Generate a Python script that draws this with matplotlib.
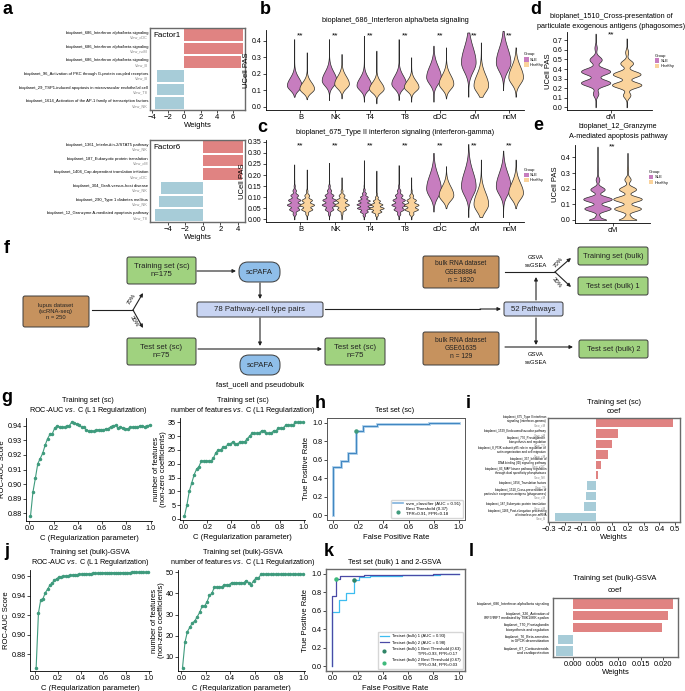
import numpy as np
import matplotlib
matplotlib.use('Agg')
import matplotlib.pyplot as plt
from matplotlib.patches import FancyBboxPatch, Patch
from matplotlib.lines import Line2D

plt.rcParams['font.family'] = ['Liberation Sans', 'DejaVu Sans']
plt.rcParams['mathtext.fontset'] = 'custom'
plt.rcParams['mathtext.rm'] = 'Liberation Sans'
plt.rcParams['mathtext.it'] = 'Liberation Sans:italic'
plt.rcParams['axes.linewidth'] = 0.6
plt.rcParams['xtick.major.size'] = 2
plt.rcParams['ytick.major.size'] = 2
plt.rcParams['xtick.major.width'] = 0.5
plt.rcParams['ytick.major.width'] = 0.5
plt.rcParams['xtick.major.pad'] = 1.2
plt.rcParams['ytick.major.pad'] = 1.2
plt.rcParams['axes.labelpad'] = 1.5

# ---------------- data ----------------
# a: factor weights
a1_names = ['bioplanet_686_Interferon alpha/beta signaling',
            'bioplanet_686_Interferon alpha/beta signaling',
            'bioplanet_686_Interferon alpha/beta signaling',
            'bioplanet_96_Activation of PKC through G-protein coupled receptors',
            'bioplanet_29_TSP1-induced apoptosis in microvascular endothelial cell',
            'bioplanet_1614_Activation of the AP-1 family of transcription factors']
a1_views = ['View_cDC', 'View_ncM', 'View_B', 'View_B', 'View_T8', 'View_NK']
a1_w = [7.15, 7.15, 6.95, -3.3, -3.4, -3.6]

a2_names = ['bioplanet_1361_Interleukin-2/STAT5 pathway',
            'bioplanet_187_Eukaryotic protein translation',
            'bioplanet_1404_Cap-dependent translation initiation',
            'bioplanet_304_Graft-versus-host disease',
            'bioplanet_290_Type 1 diabetes mellitus',
            'bioplanet_12_Granzyme A-mediated apoptosis pathway']
a2_views = ['View_NK', 'View_cM', 'View_cDC', 'View_NK', 'View_NK', 'View_T8']
a2_w = [4.55, 4.55, 4.5, -4.8, -5.0, -5.5]

# b-e: violin summaries (min, max, mode, spread)
cells = ['B', 'NK', 'T4', 'T8', 'cDC', 'cM', 'ncM']
b_sle_min = [0.06, 0.04, 0.03, 0.04, 0.03, 0.06, 0.10]
b_sle_max = [0.41, 0.41, 0.43, 0.41, 0.37, 0.45, 0.46]
b_sle_mode = [0.13, 0.16, 0.13, 0.14, 0.18, 0.27, 0.27]
b_sle_sd = [0.035, 0.04, 0.035, 0.037, 0.05, 0.07, 0.065]
b_hc_min = [0.045, 0.05, 0.02, 0.03, 0.05, 0.06, 0.06]
b_hc_max = [0.33, 0.32, 0.34, 0.30, 0.36, 0.39, 0.36]
b_hc_mode = [0.11, 0.14, 0.11, 0.12, 0.14, 0.13, 0.18]
b_hc_sd = [0.03, 0.035, 0.03, 0.03, 0.04, 0.05, 0.05]

c_sle_min = [0.0, 0.0, 0.0, 0.0, 0.035, 0.01, 0.01]
c_sle_max = [0.248, 0.255, 0.267, 0.245, 0.30, 0.34, 0.31]
c_sle_mode = [0.065, 0.07, 0.06, 0.065, 0.14, 0.15, 0.15]
c_sle_sd = [0.03, 0.03, 0.028, 0.03, 0.045, 0.05, 0.045]
c_hc_min = [0.0, 0.0, 0.0, 0.0, 0.05, 0.01, 0.05]
c_hc_max = [0.225, 0.19, 0.22, 0.19, 0.24, 0.27, 0.27]
c_hc_mode = [0.06, 0.065, 0.05, 0.055, 0.11, 0.07, 0.12]
c_hc_sd = [0.025, 0.025, 0.022, 0.025, 0.03, 0.04, 0.035]
c_ridge = [0.022, 0.022, 0.017, 0.022, 0.0, 0.0, 0.0]

d_sle = dict(lo=0.0, hi=0.77, mode=0.30, sd=0.11, step=0.13, phase=0.12, amp=0.55)
d_hc = dict(lo=0.0, hi=0.72, mode=0.27, sd=0.11, step=0.12, phase=0.11, amp=0.55)
e_sle = dict(lo=0.0, hi=0.47, mode=0.10, sd=0.06, step=0.065, phase=0.005, amp=0.6, foot=0.7)
e_hc = dict(lo=0.0, hi=0.43, mode=0.10, sd=0.07, step=0.065, phase=0.005, amp=0.6, foot=0.6)

# g / j: regularisation sweep
c_grid = [0.01, 0.03, 0.05, 0.07, 0.09, 0.11, 0.13, 0.15, 0.17, 0.19,
          0.21, 0.23, 0.25, 0.27, 0.29, 0.31, 0.33, 0.35, 0.37, 0.39,
          0.41, 0.43, 0.45, 0.47, 0.49, 0.51, 0.53, 0.55, 0.57, 0.59,
          0.61, 0.63, 0.65, 0.67, 0.69, 0.71, 0.73, 0.75, 0.77, 0.79,
          0.81, 0.83, 0.85, 0.87, 0.89, 0.91, 0.93, 0.95, 0.97, 0.99]
g_auc = [0.878, 0.8945, 0.904, 0.914, 0.9175, 0.921, 0.9265, 0.931, 0.934, 0.9345,
         0.9385, 0.9397, 0.9392, 0.939, 0.9388, 0.9398, 0.940, 0.9425, 0.9415, 0.9412,
         0.9405, 0.939, 0.9388, 0.937, 0.9362, 0.9365, 0.936, 0.9368, 0.9372, 0.9368,
         0.937, 0.9378, 0.938, 0.9392, 0.940, 0.9402, 0.9385, 0.939, 0.9385, 0.938,
         0.9378, 0.9388, 0.939, 0.9388, 0.939, 0.9398, 0.9395, 0.9393, 0.940, 0.9402]
g_nfeat = [1, 5, 10, 13, 16, 18, 19, 21, 21, 21, 21, 21, 22, 24, 25, 25, 26, 26, 27, 27,
           28, 27, 27, 28, 28, 28, 29, 30, 31, 31, 31, 31, 32, 32, 31, 31, 31, 32, 32, 33,
           33, 33, 34, 34, 34, 34, 35, 35, 35, 35]
j_auc = [0.866, 0.922, 0.9357, 0.937, 0.943, 0.9467, 0.9507, 0.9533, 0.9557, 0.9577,
         0.959, 0.9595, 0.960, 0.9603, 0.9607, 0.961, 0.9612, 0.9615, 0.9618, 0.962,
         0.9622, 0.9623, 0.9625, 0.9626, 0.9628, 0.963, 0.963, 0.9632, 0.9633, 0.9635,
         0.9637, 0.9637, 0.9637, 0.9637, 0.9638, 0.9638, 0.9638, 0.9638, 0.9639, 0.9639,
         0.9639, 0.9639, 0.964, 0.964, 0.964, 0.964, 0.964, 0.964, 0.964, 0.964]
j_nfeat = [5, 17, 22, 24, 26, 27, 29, 31, 34, 34, 36, 39, 40, 43, 43, 43, 43, 44, 44, 44,
           45, 45, 45, 45, 45, 45, 46, 45, 44, 46, 47, 47, 49, 49, 49, 49, 49, 49, 49, 49,
           49, 49, 49, 49, 49, 49, 49, 49, 49, 49]

# h / k: ROC curves
h_fpr = [0, 0, 0.06, 0.06, 0.12, 0.12, 0.18, 0.18, 0.24, 0.24, 0.35, 0.35, 0.76, 0.76, 1.0]
h_tpr = [0, 0.52, 0.52, 0.59, 0.59, 0.67, 0.67, 0.91, 0.91, 0.96, 0.96, 0.98, 0.98, 1.0, 1.0]
h_best = (0.18, 0.91)
k1_fpr = [0, 0, 0.05, 0.05, 0.11, 0.11, 0.17, 0.17, 0.21, 0.21, 0.30, 0.30, 0.55, 0.55, 0.85, 0.85, 1.0]
k1_tpr = [0, 0.59, 0.59, 0.72, 0.72, 0.79, 0.79, 0.93, 0.93, 0.96, 0.96, 0.97, 0.97, 0.98, 0.98, 1.0, 1.0]
k2_fpr = [0, 0, 0.03, 0.03, 0.06, 0.06, 0.25, 0.25, 0.80, 0.80, 1.0]
k2_tpr = [0, 0.76, 0.76, 0.94, 0.94, 0.97, 0.97, 0.99, 0.99, 1.0, 1.0]
k1_best = (0.17, 0.93)
k2_best = (0.03, 0.94)

# i / l: coefficients
i_names = ['bioplanet_675_Type II interferon\nsignaling (interferon-gamma)',
           'bioplanet_1529_Endosomal/vacuolar pathway',
           'bioplanet_770_Prostaglandin\nbiosynthesis and regulation',
           'bioplanet_8_PI3K subunit p85 role in regulation of\nactin organization and cell migration',
           'bioplanet_337_Inhibition of\nDNA binding (ID) signaling pathway',
           'bioplanet_83_MAP kinase pathway regulation\nthrough dual specificity phosphatases',
           'bioplanet_1656_Translation factors',
           'bioplanet_1510_Cross-presentation of\nparticulate exogenous antigens (phagosomes)',
           'bioplanet_187_Eukaryotic protein translation',
           'bioplanet_1166_Post-elongation processing\nof intronless pre-mRNA']
i_views = ['View_cM', 'View_cM', 'View_T4', 'View_cM', 'View_cDC', 'View_NK',
           'View_T8', 'View_cM', 'View_cM', 'View_B']
i_w = [0.486, 0.135, 0.10, 0.072, 0.03, 0.012, -0.062, -0.068, -0.077, -0.264]

l_names = ['bioplanet_686_Interferon alpha/beta signaling',
           'bioplanet_326_Activation of\nIRF3/IRF7 mediated by TBK1/IKK epsilon',
           'bioplanet_770_Prostaglandin\nbiosynthesis and regulation',
           'bioplanet_76_Beta-arrestins\nin GPCR desensitization',
           'bioplanet_67_Corticosteroids\nand cardioprotection']
l_w = [0.0222, 0.0209, 0.0196, -0.0033, -0.0037]

SLE_COL = '#C77DBF'
HC_COL = '#FAD39C'
RED = '#E08382'
BLUE = '#A7CCD8'
GREEN = '#3F9B7D'

W, H = 685, 691
fig = plt.figure(figsize=(W / 100, H / 100), dpi=100)


def ax_px(l, t, r, b):
    return fig.add_axes([l / W, 1 - b / H, (r - l) / W, (b - t) / H])


def ftext(x, y, s, **kw):
    fig.text(x / W, 1 - y / H, s, **kw)


def box_spines(ax, color='#6a6a6a', lw=1.0):
    for s in ax.spines.values():
        s.set_color(color)
        s.set_linewidth(lw)


def classic(ax):
    ax.spines['top'].set_visible(False)
    ax.spines['right'].set_visible(False)


# ---------------- a ----------------
def factor_panel(ax, names, views, w, label, xlim, xticks):
    n = len(w)
    y = np.arange(n)[::-1]
    ax.barh(y, w, height=0.86, color=[RED if v > 0 else BLUE for v in w])
    ax.set_xlim(*xlim)
    ax.set_ylim(-0.5, n - 0.5)
    ax.set_yticks([])
    ax.set_xticks(xticks)
    ax.tick_params(axis='x', labelsize=5.5)
    ax.set_xlabel('Weights', fontsize=5.5, labelpad=0.5)
    ax.text(0.04, 0.95, label, transform=ax.transAxes, ha='left', va='top', fontsize=5.8)
    tr = ax.get_yaxis_transform()
    for yi, nm, vw in zip(y, names, views):
        ax.text(-0.02, yi + 0.14, nm, transform=tr, ha='right', va='center', fontsize=3.0)
        ax.text(-0.02, yi - 0.22, vw, transform=tr, ha='right', va='center', fontsize=2.8, color='#888888')
    box_spines(ax)


factor_panel(ax_px(150, 28, 245, 110), a1_names, a1_views, a1_w, 'Factor1', (-4.2, 7.45), [-4, -2, 0, 2, 4, 6])
factor_panel(ax_px(150, 140, 245, 222), a2_names, a2_views, a2_w, 'Factor6', (-6.05, 4.8), [-4, -2, 0, 2, 4])


# ---------------- b-e violins ----------------
def vstats(lo, hi, mode, sd, step=0.0, phase=0.0, amp=0.0, foot=0.0):
    y = np.linspace(lo, hi, 400)
    s = np.where(y < mode, 0.8 * sd, 1.3 * sd)
    d = np.exp(-0.5 * ((y - mode) / s) ** 2)
    if step:
        d = d * (1 + amp * np.cos(2 * np.pi * (y - phase) / step))
    if foot:
        d = d + foot * np.exp(-0.5 * ((y - lo) / 0.007) ** 2)
    return dict(coords=y, vals=d, mean=mode, median=mode, min=lo, max=hi)


def draw_violins(ax, sle, hc, offset, width):
    pos = np.arange(len(sle))
    for stats, p, col in ((sle, pos - offset, SLE_COL), (hc, pos + offset, HC_COL)):
        parts = ax.violin(stats, positions=p, widths=width, showmeans=False,
                          showextrema=False, showmedians=False)
        for body in parts['bodies']:
            body.set_facecolor(col)
            body.set_edgecolor('#2a2a2a')
            body.set_linewidth(0.5)
            body.set_alpha(1)


def group_legend(ax, anchor):
    handles = [Patch(fc=SLE_COL, ec='none', label='SLE'), Patch(fc=HC_COL, ec='none', label='Healthy')]
    ax.legend(handles=handles, title='Group', loc='upper left', bbox_to_anchor=anchor,
              frameon=False, fontsize=3.0, title_fontsize=3.0, handlelength=1.1,
              handleheight=1.3, labelspacing=0.15, handletextpad=0.3, alignment='left',
              borderaxespad=0, borderpad=0)


def violin_axes(ax, cats, ylim, yticks, star_y, lpad=1.0):
    classic(ax)
    ax.set_ylim(*ylim)
    ax.set_yticks(yticks)
    ax.set_xticks(range(len(cats)))
    ax.set_xticklabels(cats)
    ax.tick_params(axis='x', labelsize=5.5)
    ax.tick_params(axis='y', labelsize=5.0)
    ax.set_ylabel('UCell PAS', fontsize=5.5, labelpad=lpad)
    for k in range(len(cats)):
        ax.text(k, star_y, '**', ha='center', va='center', fontsize=6)


axb = ax_px(266, 30, 524, 110)
sle = [vstats(*p) for p in zip(b_sle_min, b_sle_max, b_sle_mode, b_sle_sd)]
hc = [vstats(*p) for p in zip(b_hc_min, b_hc_max, b_hc_mode, b_hc_sd)]
draw_violins(axb, sle, hc, 0.18, 0.42)
violin_axes(axb, cells, (-0.02, 0.465), [0.0, 0.1, 0.2, 0.3, 0.4], 0.432)
axb.set_yticklabels(['0.0', '0.1', '0.2', '0.3', '0.4'])
axb.set_xlim(-0.99, 6.42)
group_legend(axb, (1.0, 0.72))
ftext(395, 20, 'bioplanet_686_Interferon alpha/beta signaling', ha='center', va='center', fontsize=5.2)

axc = ax_px(266, 140, 524, 222)
sle = [vstats(lo, hi, m, s, st, 0.0, 0.35) for lo, hi, m, s, st in
       zip(c_sle_min, c_sle_max, c_sle_mode, c_sle_sd, c_ridge)]
hc = [vstats(lo, hi, m, s, st, 0.0, 0.35) for lo, hi, m, s, st in
      zip(c_hc_min, c_hc_max, c_hc_mode, c_hc_sd, c_ridge)]
draw_violins(axc, sle, hc, 0.18, 0.42)
violin_axes(axc, cells, (-0.012, 0.358), [0.0, 0.05, 0.1, 0.15, 0.2, 0.25, 0.3, 0.35], 0.332)
axc.set_yticklabels(['0.00', '0.05', '0.10', '0.15', '0.20', '0.25', '0.30', '0.35'])
axc.set_xlim(-0.99, 6.42)
group_legend(axc, (1.0, 0.66))
ftext(395, 132, 'bioplanet_675_Type II interferon signaling (interferon-gamma)', ha='center', va='center', fontsize=5.2)

axd = ax_px(567, 32, 652, 110)
draw_violins(axd, [vstats(**d_sle)], [vstats(**d_hc)], 0.19, 0.36)
violin_axes(axd, ['cM'], (-0.028, 0.787), [0.0, 0.1, 0.2, 0.3, 0.4, 0.5, 0.6, 0.7], 0.755, lpad=0.4)
axd.set_yticklabels(['0.0', '0.1', '0.2', '0.3', '0.4', '0.5', '0.6', '0.7'])
axd.set_xlim(-0.54, 0.5)
group_legend(axd, (1.03, 0.72))
ftext(611, 16, 'bioplanet_1510_Cross-presentation of', ha='center', va='center', fontsize=5.2)
ftext(611, 26, 'particulate exogenous antigens (phagosomes)', ha='center', va='center', fontsize=5.2)

axe = ax_px(575, 145, 650, 223)
draw_violins(axe, [vstats(**e_sle)], [vstats(**e_hc)], 0.2, 0.38)
violin_axes(axe, ['cM'], (-0.02, 0.48), [0.0, 0.1, 0.2, 0.3, 0.4], 0.465)
axe.set_yticklabels(['0.0', '0.1', '0.2', '0.3', '0.4'])
axe.set_xlim(-0.5, 0.5)
group_legend(axe, (0.98, 0.68))
ftext(618, 127, 'bioplanet_12_Granzyme', ha='center', va='center', fontsize=5.2)
ftext(618, 136, 'A-mediated apoptosis pathway', ha='center', va='center', fontsize=5.2)

# ---------------- f flowchart ----------------
axf = fig.add_axes([0, 0, 1, 1], zorder=-1)
axf.set_xlim(0, W)
axf.set_ylim(H, 0)
axf.axis('off')

BROWN, LGREEN, LBLUE, LAV = '#C6925E', '#A0D27F', '#8FBEE9', '#C8D4F2'


def fbox(x0, y0, x1, y1, fc, text, fs, rnd=2):
    axf.add_patch(FancyBboxPatch((x0, y0), x1 - x0, y1 - y0,
                                 boxstyle='round,pad=0,rounding_size=%g' % rnd,
                                 fc=fc, ec='#3a3a3a', lw=0.7))
    axf.text((x0 + x1) / 2, (y0 + y1) / 2, text, ha='center', va='center',
             fontsize=fs, linespacing=1.25, color='#222222')


def arrow(x0, y0, x1, y1):
    axf.annotate('', xy=(x1, y1), xytext=(x0, y0),
                 arrowprops=dict(arrowstyle='-|>', color='#222222', lw=0.8,
                                 mutation_scale=5, shrinkA=0, shrinkB=0))


def line(xs, ys):
    axf.plot(xs, ys, color='#222222', lw=0.8)


fbox(23, 296, 89, 327, BROWN, 'lupus dataset\n(scRNA-seq)\nn = 250', 4.2)
fbox(127, 257, 196, 284, LGREEN, 'Training set (sc)\nn=175', 5.6)
fbox(239, 262, 280, 282, LBLUE, 'scPAFA', 5.6, rnd=9)
fbox(197, 302, 323, 317, LAV, '78 Pathway-cell type pairs', 5.6)
fbox(127, 338, 196, 365, LGREEN, 'Test set (sc)\nn=75', 5.6)
fbox(325, 338, 385, 365, LGREEN, 'Test set (sc)\nn=75', 5.6)
fbox(240, 355, 280, 375, LBLUE, 'scPAFA', 5.6, rnd=9)
axf.text(260, 385, 'fast_ucell and pseudobulk', ha='center', va='center', fontsize=5.4)
line([92, 133], [310, 310])
arrow(133, 310, 143, 293)
arrow(133, 310, 143, 328)
axf.text(132, 299, '70%', rotation=58, ha='center', va='center', fontsize=4.3)
axf.text(134, 321, '30%', rotation=-58, ha='center', va='center', fontsize=4.3)
arrow(197, 271, 236, 271)
arrow(260, 283, 260, 299)
arrow(260, 318, 260, 346)
arrow(198, 349, 322, 349)
line([325, 480], [309, 309])
arrow(480, 309, 501, 309)

fbox(423, 256, 499, 288, BROWN, 'bulk RNA dataset\nGSE88884\nn = 1820', 4.8)
fbox(423, 332, 499, 365, BROWN, 'bulk RNA dataset\nGSE61635\nn = 129', 4.8)
fbox(504, 302, 563, 316, LAV, '52 Pathways', 5.6)
fbox(578, 247, 648, 265, LGREEN, 'Training set (bulk)', 5.4)
fbox(578, 277, 648, 295, LGREEN, 'Test set (bulk) 1', 5.4)
fbox(579, 340, 648, 358, LGREEN, 'Test set (bulk) 2', 5.4)
line([505, 555], [272, 272])
arrow(555, 272, 571, 258)
arrow(555, 272, 571, 287)
axf.text(558, 262, '70%', rotation=50, ha='center', va='center', fontsize=4.3)
axf.text(557, 283, '30%', rotation=-50, ha='center', va='center', fontsize=4.3)
axf.text(536, 257, 'GSVA', ha='center', va='center', fontsize=4.2)
axf.text(536, 265, 'ssGSEA', ha='center', va='center', fontsize=4.2)
arrow(536, 300, 536, 277)
arrow(536, 318, 536, 345)
arrow(505, 347, 573, 347)
axf.text(536, 354, 'GSVA', ha='center', va='center', fontsize=4.2)
axf.text(536, 362, 'ssGSEA', ha='center', va='center', fontsize=4.2)


# ---------------- g / j ----------------
def curve_panel(ax, y, ylim, yticks, fmt, ylabel, xlim):
    ax.plot(c_grid, y, color=GREEN, lw=0.8, marker='o', ms=1.5, mec=GREEN, mfc=GREEN)
    classic(ax)
    ax.set_xlim(*xlim)
    ax.set_ylim(*ylim)
    ax.set_xticks([0, 0.2, 0.4, 0.6, 0.8, 1.0])
    ax.set_yticks(yticks)
    ax.set_yticklabels([fmt % v for v in yticks])
    ax.tick_params(labelsize=5.2)
    ax.set_xlabel('C (Regularization parameter)', fontsize=5.5)
    ax.set_ylabel(ylabel, fontsize=5.5, linespacing=1.0, labelpad=0.6)


curve_panel(ax_px(26, 418, 152, 521), g_auc, (0.8748, 0.9452),
            [0.88, 0.89, 0.90, 0.91, 0.92, 0.93, 0.94], '%.2f', 'ROC-AUC Score', (-0.027, 1.01))
ftext(88, 401, 'Training set (sc)', ha='center', va='center', fontsize=5.2)
ftext(88, 411, r'ROC-AUC $\it{vs.}$ C (L1 Regularization)', ha='center', va='center', fontsize=5.2)

curve_panel(ax_px(180, 418, 305, 520), g_nfeat, (-0.4, 36.6), [0, 5, 10, 15, 20, 25, 30, 35], '%d',
            'number of features\n(non-zero coefficients)', (-0.027, 1.01))
ftext(243, 401, 'Training set (sc)', ha='center', va='center', fontsize=5.2)
ftext(243, 411, r'number of features $\it{vs.}$ C (L1 Regularization)', ha='center', va='center', fontsize=5.2)

curve_panel(ax_px(30, 570, 151, 671), j_auc, (0.8625, 0.9665),
            [0.88, 0.90, 0.92, 0.94, 0.96], '%.2f', 'ROC-AUC Score', (-0.044, 1.018))
ftext(90, 553, 'Training set (bulk)-GSVA', ha='center', va='center', fontsize=5.2)
ftext(90, 563, r'ROC-AUC $\it{vs.}$ C (L1 Regularization)', ha='center', va='center', fontsize=5.2)

curve_panel(ax_px(178, 570, 305, 671), j_nfeat, (3.4, 51), [10, 20, 30, 40, 50], '%d',
            'number of features\n(non-zero coefficients)', (-0.027, 1.01))
ftext(243, 553, 'Training set (bulk)-GSVA', ha='center', va='center', fontsize=5.2)
ftext(243, 563, r'number of features $\it{vs.}$ C (L1 Regularization)', ha='center', va='center', fontsize=5.2)


# ---------------- h / k ROC ----------------
def roc_axes(ax):
    ax.set_xlim(-0.05, 1.05)
    ax.set_ylim(-0.05, 1.05)
    ax.set_xticks([0, 0.2, 0.4, 0.6, 0.8, 1.0])
    ax.set_yticks([0, 0.2, 0.4, 0.6, 0.8, 1.0])
    ax.tick_params(labelsize=5.2)
    ax.set_xlabel('False Positive Rate', fontsize=5.5)
    ax.set_ylabel('True Positive Rate', fontsize=5.5)


axh = ax_px(327, 418, 465, 520)
axh.plot(h_fpr, h_tpr, color='#A8CCE8', lw=2.0, solid_joinstyle='miter')
axh.plot(h_fpr, h_tpr, color='#3E85C1', lw=0.7)
axh.scatter([h_best[0]], [h_best[1]], s=5, color=GREEN, zorder=5)
roc_axes(axh)
box_spines(axh, '#555555', 0.7)
hh = [Line2D([], [], color='#7FB2DD', lw=1.2),
      Line2D([], [], ls='none', marker='o', ms=2, color=GREEN)]
axh.legend(hh, ['svm_classifier (AUC = 0.91)', 'Best Threshold (0.37)\nTPR=0.91, FPR=0.18'],
           loc='lower right', fontsize=3.2, frameon=True, edgecolor='#cccccc',
           handlelength=2.2, borderpad=0.4, labelspacing=0.4, fancybox=True)
ftext(395, 410, 'Test set (sc)', ha='center', va='center', fontsize=5.2)

axk = ax_px(326, 569, 465, 671)
axk.plot(k1_fpr, k1_tpr, color='#3DBDF0', lw=0.9)
axk.plot(k2_fpr, k2_tpr, color='#4A4AA6', lw=0.9)
axk.scatter([k1_best[0]], [k1_best[1]], s=5, color='#2E8466', zorder=5)
axk.scatter([k2_best[0]], [k2_best[1]], s=5, color='#3DBA7B', zorder=5)
roc_axes(axk)
box_spines(axk, '#6a6a6a', 1.0)
kh = [Line2D([], [], color='#3DBDF0', lw=0.9), Line2D([], [], color='#4A4AA6', lw=0.9),
      Line2D([], [], ls='none', marker='o', ms=2, color='#2E8466'),
      Line2D([], [], ls='none', marker='o', ms=2, color='#3DBA7B')]
axk.legend(kh, ['Testset (bulk) 1 (AUC = 0.93)', 'Testset (bulk) 2 (AUC = 0.98)',
                'Testset (bulk) 1 Best Threshold (0.63)\n                       TPR=0.93, FPR=0.17',
                'Testset (bulk) 2 Best Threshold (0.67)\n                       TPR=0.94, FPR=0.03'],
           loc='lower right', fontsize=3.0, frameon=True, edgecolor='#cccccc',
           handlelength=2.2, borderpad=0.5, labelspacing=0.6, fancybox=True)
ftext(395, 562, 'Test set (bulk) 1 and 2-GSVA', ha='center', va='center', fontsize=5.2)


# ---------------- i / l coefficients ----------------
def coef_panel(ax, names, w, views, xlim, xticks, fmt, fs):
    n = len(w)
    y = np.arange(n)[::-1]
    ax.barh(y, w, height=0.8, color=[RED if v > 0 else BLUE for v in w])
    ax.set_xlim(*xlim)
    ax.set_ylim(-0.5, n - 0.5)
    ax.set_yticks([])
    ax.set_xticks(xticks)
    ax.set_xticklabels([fmt % v if v >= 0 else '\u2212' + fmt % (-v) for v in xticks])
    ax.tick_params(axis='x', labelsize=5.3)
    ax.set_xlabel('Weights', fontsize=5.5, labelpad=0.5)
    tr = ax.get_yaxis_transform()
    for k, yi in enumerate(y):
        if views:
            ax.text(-0.015, yi + 0.02, names[k], transform=tr, ha='right', va='bottom',
                    fontsize=fs, linespacing=0.95)
            ax.text(-0.015, yi + 0.02, views[k], transform=tr, ha='right', va='top',
                    fontsize=fs, color='#888888')
        else:
            ax.text(-0.03, yi, names[k], transform=tr, ha='right', va='center',
                    fontsize=fs, linespacing=1.1)
    box_spines(ax)


coef_panel(ax_px(548, 418, 680, 522), i_names, i_w, i_views, (-0.306, 0.53),
           [-0.3, -0.2, -0.1, 0.0, 0.1, 0.2, 0.3, 0.4, 0.5], '%.1f', 2.2)
ftext(614, 403, 'Training set (sc)', ha='center', va='center', fontsize=5.4)
ftext(614, 412, 'coef', ha='center', va='center', fontsize=5.4)

coef_panel(ax_px(553, 598, 678, 657), l_names, l_w, None, (-0.0043, 0.0232),
           [0.0, 0.005, 0.01, 0.015, 0.02], '%.3f', 2.5)
ftext(615, 578, 'Training set (bulk)-GSVA', ha='center', va='center', fontsize=5.4)
ftext(615, 590, 'coef', ha='center', va='center', fontsize=5.4)

# ---------------- panel letters ----------------
for lab, x, y in [('a', 8, 9), ('b', 265, 10), ('c', 262, 127), ('d', 536, 9), ('e', 538, 126),
                  ('f', 7, 249), ('g', 7, 398), ('h', 320, 403), ('i', 468, 403),
                  ('j', 7, 552), ('k', 329, 552), ('l', 471, 552)]:
    ftext(x, y, lab, fontsize=13, fontweight='bold', ha='center', va='center')

fig.savefig('out.png', dpi=100, facecolor='white')
